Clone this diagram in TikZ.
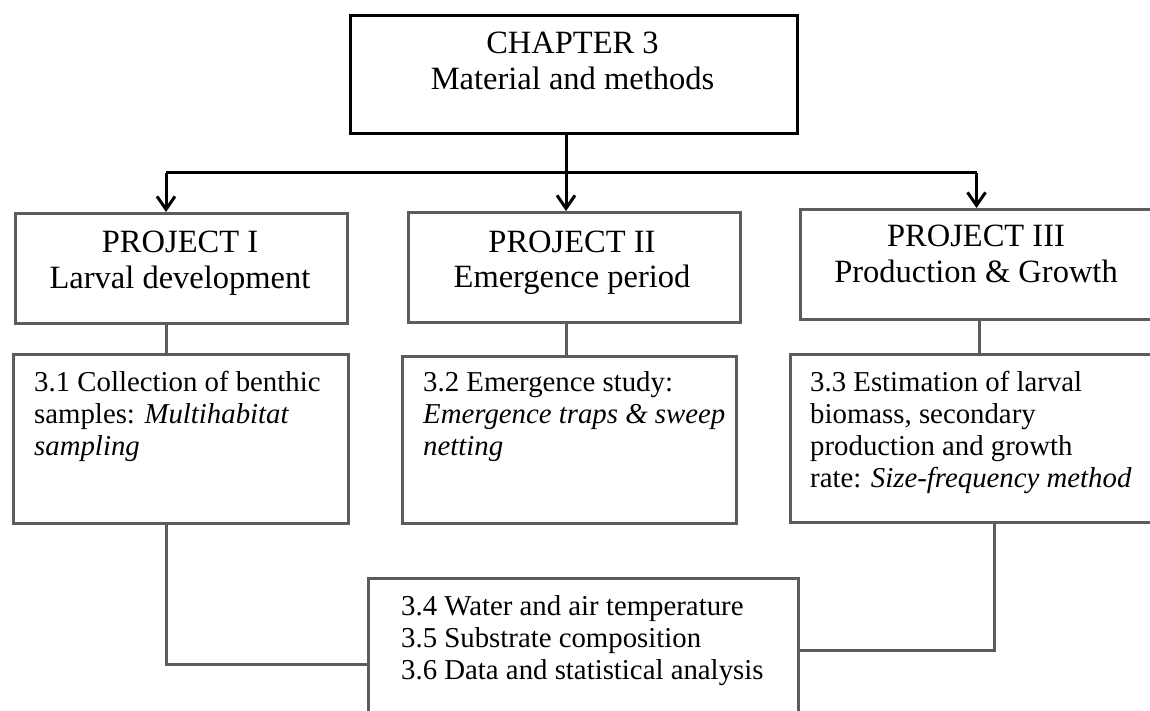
\documentclass[tikz,border=0pt]{standalone}
\usepackage{fontspec}
\setmainfont{Liberation Serif}
\usetikzlibrary{arrows.meta}
\definecolor{boxgray}{RGB}{92,92,92}
\tikzset{
  chbox/.style={draw=black, line width=3.3pt, rectangle, inner sep=0pt},
  gbox/.style={draw=boxgray, line width=3pt, rectangle, inner sep=0pt},
  arr/.style={draw=black, line width=3pt, -{Straight Barb[length=13pt,width=18pt]}},
  blk/.style={draw=black, line width=3pt},
  gline/.style={draw=boxgray, line width=3pt},
  txt/.style={inner sep=0pt, anchor=base west},
  ctxt/.style={inner sep=0pt, anchor=base},
}
\newcommand{\hdfont}{\fontsize{32.5}{35.5}\selectfont}
\newcommand{\bdfont}{\fontsize{28.8}{32.2}\selectfont}
\begin{document}
\begin{tikzpicture}[x=1pt,y=-1pt]
\useasboundingbox (0,0) rectangle (1150,711);
\clip (0,0) rectangle (1150,711);
% boxes
\node[chbox, minimum width=447pt, minimum height=118pt, anchor=north west] (ch) at (349,14) {};
\node[gbox, minimum width=332pt, minimum height=110pt, anchor=north west] (pI) at (14,212) {};
\node[gbox, minimum width=332pt, minimum height=110pt, anchor=north west] (pII) at (406.5,211) {};
\node[gbox, minimum width=361pt, minimum height=110pt, anchor=north west] (pIII) at (799,208) {};
\node[gbox, minimum width=335pt, minimum height=169pt, anchor=north west] (s31) at (11.5,353) {};
\node[gbox, minimum width=334pt, minimum height=167pt, anchor=north west] (s32) at (401,355) {};
\node[gbox, minimum width=372pt, minimum height=168pt, anchor=north west] (s33) at (789,353) {};
\node[gbox, minimum width=430pt, minimum height=143pt, anchor=north west] (s34) at (367,577) {};
% texts
\node[ctxt] (cht) at (572.5,54) {\parbox[t]{440pt}{\centering\hdfont CHAPTER 3\\Material and methods}};
\node[ctxt] (pIt) at (180,253) {\parbox[t]{330pt}{\centering\hdfont PROJECT I\\Larval development}};
\node[ctxt] (pIIt) at (572,252) {\parbox[t]{330pt}{\centering\hdfont PROJECT II\\Emergence period}};
\node[ctxt] (pIIIt) at (976,247) {\parbox[t]{340pt}{\centering\hdfont PROJECT III\\Production \& Growth}};
\node[txt] (s31t) at (34,391) {\parbox[t]{400pt}{\raggedright\bdfont 3.1 Collection of benthic\\samples: \textit{Multihabitat}\\\textit{sampling}}};
\node[txt] (s32t) at (423,391) {\parbox[t]{400pt}{\raggedright\bdfont 3.2 Emergence study:\\\textit{Emergence traps \& sweep}\\\textit{netting}}};
\node[txt] (s33t) at (810,391) {\parbox[t]{400pt}{\raggedright\bdfont 3.3 Estimation of larval\\biomass, secondary\\production and growth\\rate: \textit{Size-frequency method}}};
\node[txt] (s34t) at (401,615) {\parbox[t]{420pt}{\raggedright\bdfont 3.4 Water and air temperature\\3.5 Substrate composition\\3.6 Data and statistical analysis}};
% connectors from chapter
\coordinate (jM) at (566,173);
\coordinate (jL) at (166,173);
\coordinate (jR) at (976.5,173);
\draw[blk] (jL) -- (jR);
\draw[arr] (ch.south -| jM) -- (pII.north -| jM);
\draw[arr] (jL) -- (pI.north -| jL);
\draw[arr] (jR) -- (pIII.north -| jR);
% project to section connectors
\draw[gline] (pI.south -| jL) -- (s31.north -| jL);
\draw[gline] (pII.south -| jM) -- (s32.north -| jM);
\coordinate (cR) at (979,330);
\draw[gline] (pIII.south -| cR) -- (s33.north -| cR);
% bottom connectors
\coordinate (bL) at (166,664);
\coordinate (bR) at (994,650);
\draw[gline] (s31.south -| bL) -- (bL) -- (s34.west |- bL);
\draw[gline] (s33.south -| bR) -- (bR) -- (s34.east |- bR);
\end{tikzpicture}
\end{document}
